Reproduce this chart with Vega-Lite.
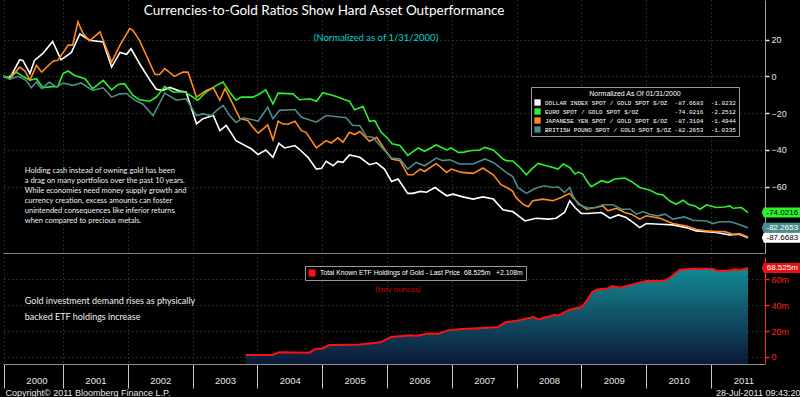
{
"$schema":"https://vega.github.io/schema/vega-lite/v6.json",
"background":"#000000","padding":0,"spacing":4,"bounds":"flush",
"config":{"view":{"stroke":null},"font":"Liberation Sans","axis":{"labelFont":"Liberation Sans","titleFont":"Liberation Sans","titleFontWeight":"normal","labelOverlap":false}},
"datasets":{
"fx":[
{"s":"USD","t":2000.08,"v":0},{"s":"USD","t":2000.18,"v":-1},{"s":"USD","t":2000.33,"v":9},{"s":"USD","t":2000.38,"v":8.7},{"s":"USD","t":2000.49,"v":1.6},{"s":"USD","t":2000.56,"v":8.7},{"s":"USD","t":2000.69,"v":12.5},{"s":"USD","t":2000.84,"v":19},{"s":"USD","t":2000.97,"v":9},{"s":"USD","t":2001.13,"v":13},{"s":"USD","t":2001.26,"v":23},{"s":"USD","t":2001.41,"v":19.6},{"s":"USD","t":2001.62,"v":18.7},{"s":"USD","t":2001.75,"v":5},{"s":"USD","t":2001.88,"v":13},{"s":"USD","t":2001.98,"v":12},{"s":"USD","t":2002.05,"v":15},{"s":"USD","t":2002.18,"v":7},{"s":"USD","t":2002.34,"v":-2},{"s":"USD","t":2002.44,"v":-7},{"s":"USD","t":2002.54,"v":-7.6},{"s":"USD","t":2002.65,"v":-6},{"s":"USD","t":2002.8,"v":-8},{"s":"USD","t":2002.9,"v":-8.5},{"s":"USD","t":2003.06,"v":-25.8},{"s":"USD","t":2003.16,"v":-23},{"s":"USD","t":2003.32,"v":-21.3},{"s":"USD","t":2003.42,"v":-29.5},{"s":"USD","t":2003.52,"v":-26.7},{"s":"USD","t":2003.67,"v":-35},{"s":"USD","t":2003.91,"v":-39.5},{"s":"USD","t":2004.01,"v":-42.5},{"s":"USD","t":2004.13,"v":-40},{"s":"USD","t":2004.24,"v":-44},{"s":"USD","t":2004.33,"v":-36.4},{"s":"USD","t":2004.42,"v":-38.9},{"s":"USD","t":2004.58,"v":-37.6},{"s":"USD","t":2004.68,"v":-40.7},{"s":"USD","t":2004.78,"v":-44},{"s":"USD","t":2004.91,"v":-50.4},{"s":"USD","t":2004.99,"v":-50},{"s":"USD","t":2005.06,"v":-46.2},{"s":"USD","t":2005.17,"v":-48.6},{"s":"USD","t":2005.24,"v":-46.2},{"s":"USD","t":2005.32,"v":-46.7},{"s":"USD","t":2005.42,"v":-42.7},{"s":"USD","t":2005.58,"v":-44},{"s":"USD","t":2005.73,"v":-48},{"s":"USD","t":2005.84,"v":-47},{"s":"USD","t":2005.96,"v":-50.4},{"s":"USD","t":2006.07,"v":-57.1},{"s":"USD","t":2006.17,"v":-55.8},{"s":"USD","t":2006.32,"v":-63.6},{"s":"USD","t":2006.4,"v":-63.6},{"s":"USD","t":2006.51,"v":-62.5},{"s":"USD","t":2006.61,"v":-63},{"s":"USD","t":2006.74,"v":-60.4},{"s":"USD","t":2006.92,"v":-64.9},{"s":"USD","t":2007.02,"v":-64},{"s":"USD","t":2007.17,"v":-65.5},{"s":"USD","t":2007.33,"v":-66.7},{"s":"USD","t":2007.48,"v":-65.5},{"s":"USD","t":2007.64,"v":-66.7},{"s":"USD","t":2007.79,"v":-72.5},{"s":"USD","t":2007.94,"v":-73.5},{"s":"USD","t":2008.13,"v":-78.6},{"s":"USD","t":2008.3,"v":-77.1},{"s":"USD","t":2008.49,"v":-77.6},{"s":"USD","t":2008.61,"v":-77.1},{"s":"USD","t":2008.74,"v":-74},{"s":"USD","t":2008.82,"v":-67.6},{"s":"USD","t":2008.9,"v":-71.3},{"s":"USD","t":2009.0,"v":-74.5},{"s":"USD","t":2009.1,"v":-74.5},{"s":"USD","t":2009.31,"v":-74},{"s":"USD","t":2009.44,"v":-77.1},{"s":"USD","t":2009.57,"v":-75.3},{"s":"USD","t":2009.69,"v":-76.7},{"s":"USD","t":2009.8,"v":-79.5},{"s":"USD","t":2009.9,"v":-82.2},{"s":"USD","t":2010.0,"v":-80},{"s":"USD","t":2010.21,"v":-80.4},{"s":"USD","t":2010.41,"v":-80.7},{"s":"USD","t":2010.62,"v":-82.2},{"s":"USD","t":2010.77,"v":-84},{"s":"USD","t":2010.93,"v":-84.4},{"s":"USD","t":2011.08,"v":-84.9},{"s":"USD","t":2011.29,"v":-86.2},{"s":"USD","t":2011.44,"v":-85.8},{"s":"USD","t":2011.57,"v":-87.67},
{"s":"EUR","t":2000.08,"v":0},{"s":"EUR","t":2000.15,"v":-0.5},{"s":"EUR","t":2000.28,"v":2.3},{"s":"EUR","t":2000.38,"v":0},{"s":"EUR","t":2000.49,"v":-2},{"s":"EUR","t":2000.59,"v":-1.3},{"s":"EUR","t":2000.69,"v":-6.2},{"s":"EUR","t":2000.82,"v":-5.6},{"s":"EUR","t":2000.92,"v":-5.6},{"s":"EUR","t":2001.0,"v":1.5},{"s":"EUR","t":2001.08,"v":2.9},{"s":"EUR","t":2001.18,"v":0.5},{"s":"EUR","t":2001.34,"v":-1.3},{"s":"EUR","t":2001.46,"v":-6.7},{"s":"EUR","t":2001.62,"v":-2.2},{"s":"EUR","t":2001.75,"v":-7.3},{"s":"EUR","t":2001.85,"v":-4.4},{"s":"EUR","t":2001.95,"v":-4},{"s":"EUR","t":2002.08,"v":-10.4},{"s":"EUR","t":2002.18,"v":-12.7},{"s":"EUR","t":2002.34,"v":-13.5},{"s":"EUR","t":2002.44,"v":-11.3},{"s":"EUR","t":2002.57,"v":-5.5},{"s":"EUR","t":2002.7,"v":-8.5},{"s":"EUR","t":2002.88,"v":-8.5},{"s":"EUR","t":2003.08,"v":-13},{"s":"EUR","t":2003.21,"v":-8.5},{"s":"EUR","t":2003.37,"v":-4.9},{"s":"EUR","t":2003.47,"v":-3.1},{"s":"EUR","t":2003.57,"v":-8.5},{"s":"EUR","t":2003.67,"v":-13},{"s":"EUR","t":2003.75,"v":-11.3},{"s":"EUR","t":2003.93,"v":-11.3},{"s":"EUR","t":2004.01,"v":-10},{"s":"EUR","t":2004.13,"v":-7.3},{"s":"EUR","t":2004.24,"v":-15},{"s":"EUR","t":2004.32,"v":-9.1},{"s":"EUR","t":2004.55,"v":-9.5},{"s":"EUR","t":2004.65,"v":-12.7},{"s":"EUR","t":2004.81,"v":-12.2},{"s":"EUR","t":2004.91,"v":-13.5},{"s":"EUR","t":2005.01,"v":-8.9},{"s":"EUR","t":2005.22,"v":-10.9},{"s":"EUR","t":2005.35,"v":-12.7},{"s":"EUR","t":2005.42,"v":-13.5},{"s":"EUR","t":2005.5,"v":-18.2},{"s":"EUR","t":2005.63,"v":-16.4},{"s":"EUR","t":2005.73,"v":-24.4},{"s":"EUR","t":2005.81,"v":-24},{"s":"EUR","t":2005.91,"v":-30.4},{"s":"EUR","t":2006.02,"v":-34},{"s":"EUR","t":2006.08,"v":-36.7},{"s":"EUR","t":2006.2,"v":-37.6},{"s":"EUR","t":2006.32,"v":-43},{"s":"EUR","t":2006.48,"v":-38.9},{"s":"EUR","t":2006.58,"v":-40.7},{"s":"EUR","t":2006.76,"v":-37.3},{"s":"EUR","t":2006.92,"v":-40},{"s":"EUR","t":2006.99,"v":-38.9},{"s":"EUR","t":2007.1,"v":-41.3},{"s":"EUR","t":2007.17,"v":-41.3},{"s":"EUR","t":2007.28,"v":-40.4},{"s":"EUR","t":2007.43,"v":-40},{"s":"EUR","t":2007.51,"v":-38.6},{"s":"EUR","t":2007.64,"v":-40},{"s":"EUR","t":2007.79,"v":-44.9},{"s":"EUR","t":2007.84,"v":-45.8},{"s":"EUR","t":2007.94,"v":-46},{"s":"EUR","t":2008.05,"v":-49.5},{"s":"EUR","t":2008.15,"v":-53.5},{"s":"EUR","t":2008.23,"v":-50.4},{"s":"EUR","t":2008.33,"v":-47.3},{"s":"EUR","t":2008.46,"v":-48.6},{"s":"EUR","t":2008.56,"v":-49.5},{"s":"EUR","t":2008.64,"v":-50.4},{"s":"EUR","t":2008.72,"v":-47.6},{"s":"EUR","t":2008.82,"v":-49.5},{"s":"EUR","t":2008.9,"v":-53.1},{"s":"EUR","t":2008.95,"v":-52},{"s":"EUR","t":2009.02,"v":-53.1},{"s":"EUR","t":2009.1,"v":-57.7},{"s":"EUR","t":2009.15,"v":-60},{"s":"EUR","t":2009.31,"v":-56.7},{"s":"EUR","t":2009.41,"v":-57.7},{"s":"EUR","t":2009.51,"v":-55.8},{"s":"EUR","t":2009.67,"v":-55.3},{"s":"EUR","t":2009.77,"v":-57.1},{"s":"EUR","t":2009.9,"v":-60.4},{"s":"EUR","t":2010.0,"v":-61.3},{"s":"EUR","t":2010.05,"v":-61.8},{"s":"EUR","t":2010.18,"v":-64},{"s":"EUR","t":2010.26,"v":-64.5},{"s":"EUR","t":2010.36,"v":-67.6},{"s":"EUR","t":2010.46,"v":-69.5},{"s":"EUR","t":2010.57,"v":-67.3},{"s":"EUR","t":2010.65,"v":-69.5},{"s":"EUR","t":2010.75,"v":-70.4},{"s":"EUR","t":2010.83,"v":-72.2},{"s":"EUR","t":2010.93,"v":-69.8},{"s":"EUR","t":2011.08,"v":-71.3},{"s":"EUR","t":2011.21,"v":-71},{"s":"EUR","t":2011.29,"v":-70.4},{"s":"EUR","t":2011.34,"v":-71.7},{"s":"EUR","t":2011.47,"v":-71.3},{"s":"EUR","t":2011.57,"v":-74.02},
{"s":"JPY","t":2000.08,"v":0},{"s":"JPY","t":2000.18,"v":-1.5},{"s":"JPY","t":2000.33,"v":5},{"s":"JPY","t":2000.41,"v":3},{"s":"JPY","t":2000.49,"v":-2},{"s":"JPY","t":2000.59,"v":6},{"s":"JPY","t":2000.67,"v":2.3},{"s":"JPY","t":2000.85,"v":8.4},{"s":"JPY","t":2000.92,"v":8.7},{"s":"JPY","t":2001.08,"v":17},{"s":"JPY","t":2001.15,"v":17},{"s":"JPY","t":2001.23,"v":29.6},{"s":"JPY","t":2001.31,"v":23.3},{"s":"JPY","t":2001.41,"v":19.3},{"s":"JPY","t":2001.57,"v":24.2},{"s":"JPY","t":2001.75,"v":7.8},{"s":"JPY","t":2001.88,"v":17},{"s":"JPY","t":2002.03,"v":26},{"s":"JPY","t":2002.08,"v":25},{"s":"JPY","t":2002.18,"v":19.6},{"s":"JPY","t":2002.42,"v":1},{"s":"JPY","t":2002.49,"v":1},{"s":"JPY","t":2002.57,"v":4.2},{"s":"JPY","t":2002.72,"v":0},{"s":"JPY","t":2002.85,"v":2.3},{"s":"JPY","t":2002.93,"v":2.3},{"s":"JPY","t":2003.06,"v":-11.3},{"s":"JPY","t":2003.21,"v":-7.6},{"s":"JPY","t":2003.32,"v":-6.2},{"s":"JPY","t":2003.42,"v":-13},{"s":"JPY","t":2003.5,"v":-6.7},{"s":"JPY","t":2003.62,"v":-15},{"s":"JPY","t":2003.73,"v":-23},{"s":"JPY","t":2003.85,"v":-24},{"s":"JPY","t":2003.93,"v":-27.6},{"s":"JPY","t":2004.01,"v":-30.9},{"s":"JPY","t":2004.09,"v":-28.5},{"s":"JPY","t":2004.16,"v":-26.4},{"s":"JPY","t":2004.24,"v":-34.5},{"s":"JPY","t":2004.32,"v":-24.4},{"s":"JPY","t":2004.39,"v":-25.8},{"s":"JPY","t":2004.47,"v":-26},{"s":"JPY","t":2004.58,"v":-24.4},{"s":"JPY","t":2004.68,"v":-29.5},{"s":"JPY","t":2004.75,"v":-30.4},{"s":"JPY","t":2004.91,"v":-38.9},{"s":"JPY","t":2005.06,"v":-34.9},{"s":"JPY","t":2005.14,"v":-36.2},{"s":"JPY","t":2005.24,"v":-33.4},{"s":"JPY","t":2005.32,"v":-35.8},{"s":"JPY","t":2005.42,"v":-30.4},{"s":"JPY","t":2005.5,"v":-31.6},{"s":"JPY","t":2005.58,"v":-30},{"s":"JPY","t":2005.73,"v":-35.3},{"s":"JPY","t":2005.84,"v":-33.1},{"s":"JPY","t":2005.96,"v":-39.5},{"s":"JPY","t":2006.07,"v":-44.9},{"s":"JPY","t":2006.2,"v":-45.8},{"s":"JPY","t":2006.32,"v":-53.5},{"s":"JPY","t":2006.4,"v":-53.5},{"s":"JPY","t":2006.51,"v":-50.4},{"s":"JPY","t":2006.58,"v":-51.7},{"s":"JPY","t":2006.76,"v":-47.3},{"s":"JPY","t":2006.92,"v":-52.2},{"s":"JPY","t":2006.99,"v":-50.4},{"s":"JPY","t":2007.15,"v":-52.2},{"s":"JPY","t":2007.33,"v":-52.7},{"s":"JPY","t":2007.48,"v":-49.8},{"s":"JPY","t":2007.64,"v":-53.5},{"s":"JPY","t":2007.76,"v":-58.9},{"s":"JPY","t":2007.87,"v":-60.8},{"s":"JPY","t":2007.94,"v":-62.5},{"s":"JPY","t":2007.99,"v":-65.8},{"s":"JPY","t":2008.1,"v":-69.5},{"s":"JPY","t":2008.18,"v":-70.9},{"s":"JPY","t":2008.25,"v":-67.6},{"s":"JPY","t":2008.41,"v":-66.7},{"s":"JPY","t":2008.56,"v":-67.6},{"s":"JPY","t":2008.69,"v":-65.8},{"s":"JPY","t":2008.74,"v":-64.9},{"s":"JPY","t":2008.82,"v":-63.6},{"s":"JPY","t":2008.87,"v":-65.8},{"s":"JPY","t":2008.97,"v":-69.5},{"s":"JPY","t":2009.08,"v":-72.2},{"s":"JPY","t":2009.21,"v":-71.3},{"s":"JPY","t":2009.33,"v":-70.4},{"s":"JPY","t":2009.41,"v":-73.1},{"s":"JPY","t":2009.54,"v":-71.7},{"s":"JPY","t":2009.67,"v":-74},{"s":"JPY","t":2009.77,"v":-74.9},{"s":"JPY","t":2009.9,"v":-77.6},{"s":"JPY","t":2010.0,"v":-75.8},{"s":"JPY","t":2010.21,"v":-77.1},{"s":"JPY","t":2010.41,"v":-80},{"s":"JPY","t":2010.62,"v":-81.3},{"s":"JPY","t":2010.77,"v":-83.1},{"s":"JPY","t":2010.93,"v":-84},{"s":"JPY","t":2011.08,"v":-84.4},{"s":"JPY","t":2011.21,"v":-84.4},{"s":"JPY","t":2011.34,"v":-85.8},{"s":"JPY","t":2011.44,"v":-85.5},{"s":"JPY","t":2011.57,"v":-87.31},
{"s":"GBP","t":2000.08,"v":0},{"s":"GBP","t":2000.18,"v":-1.5},{"s":"GBP","t":2000.31,"v":0},{"s":"GBP","t":2000.43,"v":-2.2},{"s":"GBP","t":2000.51,"v":-6.2},{"s":"GBP","t":2000.59,"v":-3.1},{"s":"GBP","t":2000.67,"v":-6.7},{"s":"GBP","t":2000.79,"v":-3.1},{"s":"GBP","t":2000.9,"v":-5.8},{"s":"GBP","t":2001.0,"v":-3.6},{"s":"GBP","t":2001.15,"v":-4.9},{"s":"GBP","t":2001.28,"v":-3.6},{"s":"GBP","t":2001.46,"v":-7.6},{"s":"GBP","t":2001.62,"v":-6.2},{"s":"GBP","t":2001.75,"v":-11.3},{"s":"GBP","t":2001.88,"v":-9.5},{"s":"GBP","t":2001.98,"v":-9.3},{"s":"GBP","t":2002.11,"v":-13},{"s":"GBP","t":2002.23,"v":-15},{"s":"GBP","t":2002.39,"v":-21.3},{"s":"GBP","t":2002.57,"v":-9.1},{"s":"GBP","t":2002.75,"v":-13},{"s":"GBP","t":2002.9,"v":-12.2},{"s":"GBP","t":2003.06,"v":-21.3},{"s":"GBP","t":2003.16,"v":-20.4},{"s":"GBP","t":2003.29,"v":-21.3},{"s":"GBP","t":2003.37,"v":-18.5},{"s":"GBP","t":2003.47,"v":-15.8},{"s":"GBP","t":2003.57,"v":-21.3},{"s":"GBP","t":2003.67,"v":-25},{"s":"GBP","t":2003.78,"v":-22.5},{"s":"GBP","t":2003.93,"v":-23.6},{"s":"GBP","t":2004.01,"v":-24.4},{"s":"GBP","t":2004.16,"v":-16.7},{"s":"GBP","t":2004.24,"v":-23},{"s":"GBP","t":2004.34,"v":-18.5},{"s":"GBP","t":2004.58,"v":-18},{"s":"GBP","t":2004.68,"v":-22.2},{"s":"GBP","t":2004.91,"v":-24.9},{"s":"GBP","t":2005.06,"v":-21.3},{"s":"GBP","t":2005.37,"v":-22.5},{"s":"GBP","t":2005.47,"v":-26.7},{"s":"GBP","t":2005.58,"v":-26.7},{"s":"GBP","t":2005.68,"v":-32.7},{"s":"GBP","t":2005.78,"v":-33.1},{"s":"GBP","t":2005.94,"v":-39.5},{"s":"GBP","t":2006.07,"v":-44.4},{"s":"GBP","t":2006.2,"v":-44.9},{"s":"GBP","t":2006.32,"v":-50.4},{"s":"GBP","t":2006.45,"v":-46.8},{"s":"GBP","t":2006.58,"v":-48.6},{"s":"GBP","t":2006.76,"v":-44.4},{"s":"GBP","t":2006.86,"v":-45.8},{"s":"GBP","t":2006.97,"v":-45.3},{"s":"GBP","t":2007.12,"v":-47.6},{"s":"GBP","t":2007.33,"v":-47.6},{"s":"GBP","t":2007.51,"v":-44.9},{"s":"GBP","t":2007.64,"v":-46.8},{"s":"GBP","t":2007.84,"v":-52.2},{"s":"GBP","t":2007.94,"v":-54.5},{"s":"GBP","t":2008.02,"v":-60.4},{"s":"GBP","t":2008.15,"v":-63.6},{"s":"GBP","t":2008.3,"v":-60.7},{"s":"GBP","t":2008.43,"v":-59.5},{"s":"GBP","t":2008.56,"v":-60.4},{"s":"GBP","t":2008.64,"v":-60},{"s":"GBP","t":2008.74,"v":-63.1},{"s":"GBP","t":2008.82,"v":-60.4},{"s":"GBP","t":2008.87,"v":-64.9},{"s":"GBP","t":2008.95,"v":-69.5},{"s":"GBP","t":2009.1,"v":-71.6},{"s":"GBP","t":2009.23,"v":-71.3},{"s":"GBP","t":2009.33,"v":-69.8},{"s":"GBP","t":2009.49,"v":-69.8},{"s":"GBP","t":2009.62,"v":-72.2},{"s":"GBP","t":2009.75,"v":-72.2},{"s":"GBP","t":2009.85,"v":-74.9},{"s":"GBP","t":2009.95,"v":-73.5},{"s":"GBP","t":2010.05,"v":-74.9},{"s":"GBP","t":2010.18,"v":-75.8},{"s":"GBP","t":2010.29,"v":-74.9},{"s":"GBP","t":2010.41,"v":-77.6},{"s":"GBP","t":2010.59,"v":-76.4},{"s":"GBP","t":2010.72,"v":-78.2},{"s":"GBP","t":2010.93,"v":-78.6},{"s":"GBP","t":2011.03,"v":-80},{"s":"GBP","t":2011.13,"v":-79},{"s":"GBP","t":2011.29,"v":-79},{"s":"GBP","t":2011.39,"v":-80},{"s":"GBP","t":2011.57,"v":-82.27}
],
"etf":[
{"t":2003.82,"v":1.5},{"t":2004.23,"v":1.5},{"t":2004.33,"v":3.6},{"t":2004.8,"v":3.3},{"t":2004.89,"v":6},{"t":2005.0,"v":6.6},{"t":2005.11,"v":9.2},{"t":2005.27,"v":9.2},{"t":2005.58,"v":9.7},{"t":2005.9,"v":11.3},{"t":2006.06,"v":15.4},{"t":2006.37,"v":16.7},{"t":2006.45,"v":16.2},{"t":2006.61,"v":17.9},{"t":2006.8,"v":17.9},{"t":2006.93,"v":20.5},{"t":2007.16,"v":21.5},{"t":2007.48,"v":22.3},{"t":2007.71,"v":23},{"t":2007.83,"v":26.7},{"t":2008.02,"v":28.2},{"t":2008.26,"v":30.8},{"t":2008.34,"v":29},{"t":2008.58,"v":32.3},{"t":2008.65,"v":32},{"t":2008.81,"v":36.2},{"t":2009.01,"v":38.7},{"t":2009.09,"v":43.8},{"t":2009.16,"v":49.7},{"t":2009.24,"v":52},{"t":2009.4,"v":52.8},{"t":2009.48,"v":54.6},{"t":2009.6,"v":53.3},{"t":2009.84,"v":56.7},{"t":2010.0,"v":58.5},{"t":2010.27,"v":58.5},{"t":2010.35,"v":60.5},{"t":2010.51,"v":67},{"t":2010.66,"v":67.7},{"t":2010.78,"v":68},{"t":2011.02,"v":68},{"t":2011.09,"v":66.4},{"t":2011.25,"v":66.4},{"t":2011.37,"v":67.4},{"t":2011.45,"v":67},{"t":2011.57,"v":68.525}
]},
"vconcat":[
{"width":762,"height":253,
"layer":[
{"mark":{"type":"rule","color":"#e00000","strokeDash":[5,5],"strokeWidth":1.5},"encoding":{"y":{"datum":0,"type":"quantitative"}}},
{"data":{"name":"fx"},"mark":{"type":"line","strokeWidth":1.6},
"encoding":{
"x":{"field":"t","type":"quantitative","scale":{"domain":[2000.074,2011.833],"nice":false,"zero":false},
"axis":{"values":[2000.09,2001,2002,2003,2004,2005,2006,2007,2008,2009,2010,2011],"tickCount":30,"labels":false,"ticks":false,"domain":true,"domainColor":"#808080","grid":true,"gridColor":"#4a4a4a","gridDash":[1,3],"title":null}},
"y":{"field":"v","type":"quantitative","scale":{"domain":[-96,41.5],"nice":false,"zero":false},
"axis":{"orient":"right","values":[-60,-40,-20,0,20],"tickCount":20,"labelColor":"#e6e6e6","labelFontSize":9,"tickColor":"#e6e6e6","tickSize":4,"tickWidth":1.5,"domainColor":"#a0a0a0","grid":true,"gridColor":"#4a4a4a","gridDash":[1,3],"title":null,"labelPadding":2}},
"color":{"field":"s","type":"nominal","scale":{"domain":["USD","EUR","JPY","GBP"],"range":["#ffffff","#2ef02e","#ff8c1a","#4a8c8c"]},
"legend":{"orient":"none","legendX":528,"legendY":87,"direction":"vertical","title":"Normalized As Of 01/31/2000","titleColor":"#ffffff","titleFont":"Liberation Sans","titleFontSize":7,"titleFontWeight":"normal","titleAnchor":"middle","titlePadding":2,"labelColor":"#ffffff","labelFont":"Liberation Mono","labelFontSize":6,"labelLimit":500,"symbolType":"square","symbolSize":40,"symbolStrokeWidth":0,"fillColor":"#000000","strokeColor":"#999999","padding":3,"rowPadding":2,
"labelExpr":"datum.value=='USD'?'DOLLAR INDEX SPOT / GOLD SPOT $/OZ\u00a0\u00a0-87.6683\u00a0\u00a0-1.0232':datum.value=='EUR'?'EURO SPOT / GOLD SPOT $/OZ\u00a0\u00a0\u00a0\u00a0\u00a0\u00a0\u00a0\u00a0\u00a0\u00a0-74.0216\u00a0\u00a0-2.2512':datum.value=='JPY'?'JAPANESE YEN SPOT / GOLD SPOT $/OZ\u00a0\u00a0-87.3104\u00a0\u00a0-1.4944':'BRITISH POUND SPOT / GOLD SPOT $/OZ\u00a0-82.2653\u00a0\u00a0-1.0335'",
"encode":{"symbols":{"update":{"fill":{"scale":"color","field":"value"},"opacity":{"value":1}}}}}}
}},
{"data":{"values":[{"t":2005.03,"v":35.5,"txt":"Currencies-to-Gold Ratios Show Hard Asset Outperformance"}]},"mark":{"type":"text","font":"Lato","fontSize":13.5,"color":"#ffffff","align":"center","baseline":"middle"},"encoding":{"x":{"field":"t","type":"quantitative"},"y":{"field":"v","type":"quantitative"},"text":{"field":"txt"}}},
{"data":{"values":[{"t":2005.83,"v":20.85,"txt":"(Normalized as of 1/31/2000)"}]},"mark":{"type":"text","font":"Lato","fontSize":9.5,"color":"#00d4d4","align":"center","baseline":"middle"},"encoding":{"x":{"field":"t","type":"quantitative"},"y":{"field":"v","type":"quantitative"},"text":{"field":"txt"}}},
{"data":{"values":[{"t":2000.41,"v":-49.5,"txt":"Holding cash instead of owning gold has been\na drag on many portfolios over the past 10 years.\nWhile economies need money supply growth and\ncurrency creation, excess amounts can foster\nunintended consequences like inferior returns\nwhen compared to precious metals."}]},"mark":{"type":"text","font":"Lato","fontSize":7.5,"lineHeight":10,"lineBreak":"\n","color":"#eeeeee","align":"left","baseline":"top"},"encoding":{"x":{"field":"t","type":"quantitative"},"y":{"field":"v","type":"quantitative"},"text":{"field":"txt"}}},
{"data":{"values":[{"t":2012.1,"v":-74.0216,"lab":"-74.0216"}]},"layer":[
{"mark":{"type":"point","filled":true,"opacity":1,"color":"#2ef02e","shape":"M-2.05,0L-1.85,-0.5L1.85,-0.5L1.85,0.5L-1.85,0.5Z","size":400},"encoding":{"x":{"field":"t","type":"quantitative"},"y":{"field":"v","type":"quantitative"}}},
{"mark":{"type":"text","fontSize":8,"color":"#000000","align":"center","baseline":"middle"},"encoding":{"x":{"field":"t","type":"quantitative"},"y":{"field":"v","type":"quantitative"},"text":{"field":"lab"}}}]},
{"data":{"values":[{"t":2012.1,"v":-82.2653,"lab":"-82.2653"}]},"layer":[
{"mark":{"type":"point","filled":true,"opacity":1,"color":"#4a8c8c","shape":"M-2.05,0L-1.85,-0.5L1.85,-0.5L1.85,0.5L-1.85,0.5Z","size":400},"encoding":{"x":{"field":"t","type":"quantitative"},"y":{"field":"v","type":"quantitative"}}},
{"mark":{"type":"text","fontSize":8,"color":"#ffffff","align":"center","baseline":"middle"},"encoding":{"x":{"field":"t","type":"quantitative"},"y":{"field":"v","type":"quantitative"},"text":{"field":"lab"}}}]},
{"data":{"values":[{"t":2012.1,"v":-87.6683,"lab":"-87.6683"}]},"layer":[
{"mark":{"type":"point","filled":true,"opacity":1,"color":"#ffffff","shape":"M-2.05,0L-1.85,-0.5L1.85,-0.5L1.85,0.5L-1.85,0.5Z","size":400},"encoding":{"x":{"field":"t","type":"quantitative"},"y":{"field":"v","type":"quantitative"}}},
{"mark":{"type":"text","fontSize":8,"color":"#000000","align":"center","baseline":"middle"},"encoding":{"x":{"field":"t","type":"quantitative"},"y":{"field":"v","type":"quantitative"},"text":{"field":"lab"}}}]}
]},
{"width":762,"height":107,
"layer":[
{"data":{"name":"etf"},"mark":{"type":"area","opacity":1,"color":{"gradient":"linear","x1":0,"y1":0,"x2":0,"y2":1,"stops":[{"offset":0,"color":"#158a95"},{"offset":1,"color":"#0b1838"}]}},
"encoding":{
"x":{"field":"t","type":"quantitative","scale":{"domain":[2000.074,2011.833],"nice":false,"zero":false},
"axis":{"values":[2000.09,2001,2002,2003,2004,2005,2006,2007,2008,2009,2010,2011],"tickCount":30,"labelExpr":"floor(datum.value)","labelOffset":32.4,"labelFlush":false,"labelOverlap":false,"labelColor":"#e6e6e6","labelFontSize":9.5,"labelBaseline":"top","labelPadding":-13,"tickSize":24,"tickColor":"#c8c8c8","tickWidth":1,"domainColor":"#909090","grid":true,"gridColor":"#4a4a4a","gridDash":[1,3],
"title":"Copyright\u00a9 2011 Bloomberg Finance L.P.","titleColor":"#e6e6e6","titleFontSize":9,"titleX":2,"titleY":31,"titleAlign":"left","titleAnchor":"start","titleBaseline":"alphabetic"}},
"y":{"field":"v","type":"quantitative","scale":{"domain":[-5.4,77],"nice":false,"zero":false},
"axis":{"orient":"right","values":[0,20,40,60],"tickCount":20,"labelExpr":"datum.value==0?'0':datum.value+'m'","labelOverlap":false,"labelColor":"#ff2020","labelFontSize":9,"tickColor":"#ff2020","tickSize":4,"tickWidth":1.5,"domainColor":"#ff2020","grid":true,"gridColor":"#4a4a4a","gridDash":[1,3],"labelPadding":2,
"title":"28-Jul-2011 09:43:20","titleColor":"#e6e6e6","titleFontSize":9,"titleAngle":0,"titleX":35,"titleY":138,"titleAlign":"right","titleBaseline":"alphabetic"}},
"y2":{"datum":-5.4}}},
{"data":{"name":"etf"},"mark":{"type":"line","strokeWidth":2},"encoding":{"x":{"field":"t","type":"quantitative"},"y":{"field":"v","type":"quantitative"},
"stroke":{"datum":"ETF","scale":{"domain":["ETF"],"range":["#ff1010"]},
"legend":{"orient":"none","legendX":302,"legendY":266,"title":null,"labelColor":"#ffffff","labelFont":"Liberation Sans","labelFontSize":6.8,"labelLimit":500,"symbolType":"square","symbolSize":50,"symbolStrokeWidth":0,"fillColor":"#000000","strokeColor":"#999999","padding":3,
"labelExpr":"'Total Known ETF Holdings of Gold - Last Price\u00a0\u00a068.525m\u00a0\u00a0\u00a0+2.108m'",
"encode":{"symbols":{"update":{"fill":{"value":"#ff1010"},"opacity":{"value":1}}}}}}}},
{"data":{"values":[{"t":2000.41,"v":46.2,"txt":"Gold investment demand rises as physically\nbacked ETF holdings increase"}]},"mark":{"type":"text","font":"Lato","fontSize":9,"lineHeight":16,"lineBreak":"\n","color":"#eeeeee","align":"left","baseline":"top"},"encoding":{"x":{"field":"t","type":"quantitative"},"y":{"field":"v","type":"quantitative"},"text":{"field":"txt"}}},
{"data":{"values":[{"t":2006.17,"v":51.6,"txt":"(troy ounces)"}]},"mark":{"type":"text","font":"Lato","fontSize":8,"color":"#d00000","align":"center","baseline":"middle"},"encoding":{"x":{"field":"t","type":"quantitative"},"y":{"field":"v","type":"quantitative"},"text":{"field":"txt"}}},
{"data":{"values":[{"t":2012.1,"v":68.525,"lab":"68.525m"}]},"layer":[
{"mark":{"type":"point","filled":true,"opacity":1,"color":"#e81010","shape":"M-2.05,0L-1.85,-0.5L1.85,-0.5L1.85,0.5L-1.85,0.5Z","size":400},"encoding":{"x":{"field":"t","type":"quantitative"},"y":{"field":"v","type":"quantitative"}}},
{"mark":{"type":"text","fontSize":8,"color":"#ffffff","align":"center","baseline":"middle"},"encoding":{"x":{"field":"t","type":"quantitative"},"y":{"field":"v","type":"quantitative"},"text":{"field":"lab"}}}]}
]}
]
}
